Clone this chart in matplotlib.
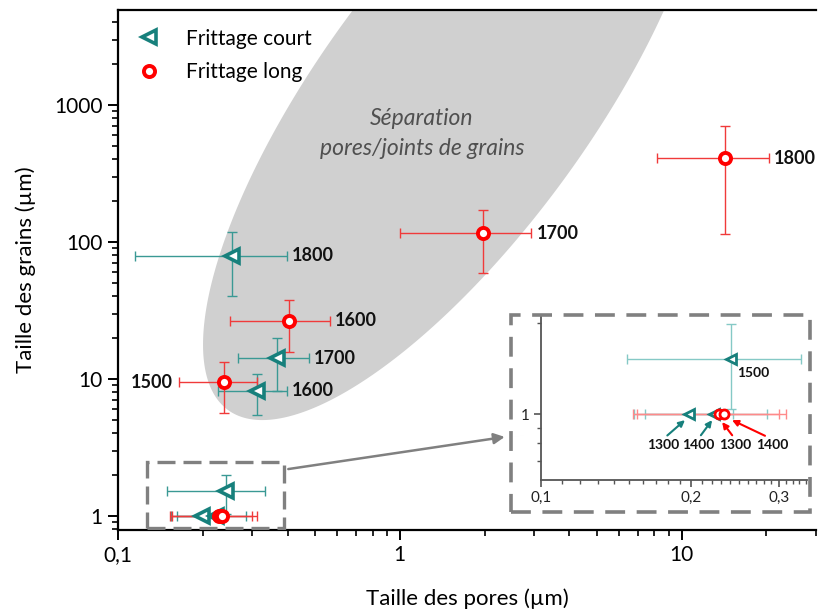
import numpy as np
import matplotlib
matplotlib.use('Agg')
import matplotlib.pyplot as plt
from matplotlib.ticker import FixedLocator, FuncFormatter, NullFormatter
from matplotlib.lines import Line2D
from matplotlib.patches import Rectangle

plt.rcParams['font.family'] = ['Lato', 'DejaVu Sans']

# ---------------- data ----------------
temps = [1300, 1400, 1500, 1600, 1700, 1800]

court_pores = [0.198, 0.222, 0.241, 0.312, 0.367, 0.254]
court_pores_lo = [0.154, 0.162, 0.149, 0.226, 0.267, 0.115]
court_pores_hi = [0.243, 0.284, 0.332, 0.398, 0.476, 0.398]
court_grains = [1.0, 1.0, 1.52, 8.2, 14.2, 79.0]
court_grains_lo = [1.0, 1.0, 1.04, 5.46, 8.2, 40.0]
court_grains_hi = [1.0, 1.0, 1.99, 10.9, 19.9, 118.0]

long_pores = [0.228, 0.233, 0.238, 0.405, 1.98, 14.2]
long_pores_lo = [0.153, 0.156, 0.165, 0.25, 1.0, 8.15]
long_pores_hi = [0.300, 0.311, 0.312, 0.566, 2.93, 20.4]
long_grains = [1.0, 1.0, 9.5, 26.5, 116.0, 410.0]
long_grains_lo = [1.0, 1.0, 5.65, 15.7, 59.4, 114.0]
long_grains_hi = [1.0, 1.0, 13.3, 37.7, 171.0, 703.0]

# labels shown in the main plot: (index, side)
court_main_labels = [(3, 'right'), (4, 'right'), (5, 'right')]
long_main_labels = [(2, 'left'), (3, 'right'), (4, 'right'), (5, 'right')]

x_major = [0.1, 1, 10]
y_major = [1, 10, 100, 1000]

# separation region (ellipse, in log10 units)
ELL_C = (0.194, 3.036)
ELL_U = (-0.682, -2.336)
ELL_V = (0.5755, 0.0)

TEAL = '#17807c'
TEAL_E = '#3a9994'
RED = '#ff0000'
RED_E = '#f03a3a'
TEAL_E_IN = '#85c9c6'
RED_E_IN = '#ff8a8a'


def fmt_comma(v, pos=None):
    s = ('%g' % v).replace('.', ',')
    return s


def draw_series(ax, x, xlo, xhi, y, ylo, yhi, marker, mcol, ecol, ms, mew):
    x = np.asarray(x); xlo = np.asarray(xlo); xhi = np.asarray(xhi)
    y = np.asarray(y); ylo = np.asarray(ylo); yhi = np.asarray(yhi)
    ax.errorbar(x, y, xerr=[x - xlo, xhi - x], yerr=[y - ylo, yhi - y],
                fmt='none', ecolor=ecol, elinewidth=1.0, capsize=3.6,
                capthick=1.0, zorder=2)
    ax.plot(x, y, ls='none', marker=marker, mfc='white', mec=mcol,
            ms=ms, mew=mew, zorder=3)


fig = plt.figure(figsize=(8.18, 6.13), dpi=100)
ax = fig.add_axes([0.1443, 0.1354, 0.8533, 0.8483])
ax.set_xscale('log')
ax.set_yscale('log')
ax.set_xlim(0.1, 30)
ax.set_ylim(0.79, 4935)

# ellipse region
t = np.linspace(0, 2 * np.pi, 500)
lx = ELL_C[0] + ELL_U[0] * np.sin(t) + ELL_V[0] * np.cos(t)
ly = ELL_C[1] + ELL_U[1] * np.sin(t)
ax.fill(10 ** lx, 10 ** ly, color='#d0d0d0', lw=0, zorder=0)

ax.text(0.4355, 0.792, 'Séparation', transform=ax.transAxes, ha='center',
        va='center', fontsize=16.5, style='italic', color='#505050')
ax.text(0.4355, 0.7346, 'pores/joints de grains', transform=ax.transAxes,
        ha='center', va='center', fontsize=16.5, style='italic', color='#505050')

draw_series(ax, court_pores, court_pores_lo, court_pores_hi, court_grains,
            court_grains_lo, court_grains_hi, '<', TEAL, TEAL_E, 9.5, 2.6)
draw_series(ax, long_pores, long_pores_lo, long_pores_hi, long_grains,
            long_grains_lo, long_grains_hi, 'o', RED, RED_E, 8, 2.8)


def label_points(ax, idxs, lo, hi, y, fs, dx):
    for i, side in idxs:
        if side == 'right':
            ax.annotate(str(temps[i]), xy=(hi[i], y[i]), xytext=(dx, 0),
                        textcoords='offset pixels', ha='left', va='center',
                        fontsize=fs, fontweight='bold', color='#111111')
        else:
            ax.annotate(str(temps[i]), xy=(lo[i], y[i]), xytext=(-dx - 2, 0),
                        textcoords='offset pixels', ha='right', va='center',
                        fontsize=fs, fontweight='bold', color='#111111')


label_points(ax, court_main_labels, court_pores_lo, court_pores_hi, court_grains, 13, 5)
label_points(ax, long_main_labels, long_pores_lo, long_pores_hi, long_grains, 13, 5)

# axes styling
for s in ['left', 'bottom', 'top']:
    ax.spines[s].set_linewidth(1.6)
    ax.spines[s].set_color('black')
ax.spines['right'].set_visible(False)
ax.xaxis.set_major_locator(FixedLocator(x_major))
ax.xaxis.set_major_formatter(FuncFormatter(fmt_comma))
x_minor = [m * d for d in [0.1, 1, 10] for m in range(2, 10) if m * d <= 30]
ax.xaxis.set_minor_locator(FixedLocator(x_minor))
ax.xaxis.set_minor_formatter(NullFormatter())
ax.yaxis.set_major_locator(FixedLocator(y_major))
ax.yaxis.set_major_formatter(FuncFormatter(fmt_comma))
y_minor = [m * d for d in [0.1, 1, 10, 100, 1000] for m in range(2, 10) if 0.79 <= m * d <= 4935]
ax.yaxis.set_minor_locator(FixedLocator(y_minor))
ax.yaxis.set_minor_formatter(NullFormatter())
ax.tick_params(which='major', direction='out', length=7, width=1.4, labelsize=15, pad=4)
ax.tick_params(which='minor', direction='out', length=4, width=1.2)
ax.tick_params(axis='x', which='both', top=False)
ax.set_xlabel('Taille des pores (µm)', fontsize=16, labelpad=17)
ax.set_ylabel('Taille des grains (µm)', fontsize=16, labelpad=13)

# legend
handles = [Line2D([], [], ls='none', marker='<', mfc='white', mec=TEAL, ms=9.5, mew=2.6),
           Line2D([], [], ls='none', marker='o', mfc='white', mec=RED, ms=8, mew=2.8)]
ax.legend(handles, ['Frittage court', 'Frittage long'], loc='upper left',
          bbox_to_anchor=(0.017, 0.98), borderaxespad=0, borderpad=0.4,
          frameon=False, fontsize=15, handlelength=1.0, handletextpad=1.3,
          labelspacing=0.65)

# zoom rectangle + arrow
ax.add_patch(Rectangle((0.127, 0.817), 0.389 - 0.127, 2.48 - 0.817, fill=False,
                       ec='#808080', lw=2.4, ls=(0, (5.4, 2.4)), zorder=4))
ax.annotate('', xy=(0.554, 0.179), xycoords='axes fraction', xytext=(0.402, 2.2),
            textcoords='data',
            arrowprops=dict(arrowstyle='-|>', color='#808080', lw=1.8,
                            mutation_scale=16, shrinkA=0, shrinkB=0))

# inset box
fig.add_artist(Rectangle((0.6247, 0.1648), 0.3655, 0.3214, transform=fig.transFigure,
                         fill=False, ec='#808080', lw=2.6, ls=(0, (5.5, 3.2))))

# inset axes
axin = fig.add_axes([0.6614, 0.217, 0.3252, 0.2692])
axin.set_facecolor('none')
axin.set_xscale('log')
axin.set_yscale('log')
axin.set_xlim(0.1, 0.342)
axin.set_ylim(0.605, 2.13)
draw_series(axin, court_pores, court_pores_lo, court_pores_hi, court_grains,
            court_grains_lo, court_grains_hi, '<', TEAL, TEAL_E_IN, 7, 2.0)
draw_series(axin, long_pores, long_pores_lo, long_pores_hi, long_grains,
            long_grains_lo, long_grains_hi, 'o', RED, RED_E_IN, 6.5, 2.0)
for s in ['top', 'right']:
    axin.spines[s].set_visible(False)
for s in ['left', 'bottom']:
    axin.spines[s].set_color('#555555')
    axin.spines[s].set_linewidth(1.3)
axin.xaxis.set_major_locator(FixedLocator([0.1, 0.2, 0.3]))
axin.xaxis.set_major_formatter(FuncFormatter(fmt_comma))
axin.xaxis.set_minor_locator(FixedLocator([k / 100 for k in range(11, 35) if k not in (20, 30)]))
axin.xaxis.set_minor_formatter(NullFormatter())
axin.yaxis.set_major_locator(FixedLocator([1]))
axin.yaxis.set_major_formatter(FuncFormatter(fmt_comma))
axin.yaxis.set_minor_locator(FixedLocator([0.7, 0.8, 0.9, 2]))
axin.yaxis.set_minor_formatter(NullFormatter())
axin.tick_params(which='major', direction='out', length=5, width=1.2, color='#555555',
                 labelsize=11, labelcolor='#222222', pad=3)
axin.tick_params(which='minor', direction='out', length=3, width=1.0, color='#555555')

# inset labels
axin.annotate(str(temps[2]), xy=(court_pores[2], court_grains[2]), xytext=(6, -14),
              textcoords='offset pixels', ha='left', va='center', fontsize=10,
              fontweight='bold', color='#111111')
inset_arrows = [
    (0.1758, 0.789, TEAL, (0.1945, 0.955)),
    (0.2066, 0.789, TEAL, (0.2205, 0.955)),
    (0.2453, 0.789, RED, (0.231, 0.941)),
    (0.291, 0.789, RED, (0.2418, 0.955)),
]
inset_arrow_labels = [temps[0], temps[1], temps[0], temps[1]]
for (tx, ty, col, head), lab in zip(inset_arrows, inset_arrow_labels):
    axin.annotate(str(lab), xy=head, xytext=(tx, ty), ha='center', va='center',
                  fontsize=10, fontweight='bold', color='#111111',
                  arrowprops=dict(arrowstyle='-|>', color=col, lw=1.5,
                                  mutation_scale=9, shrinkA=1, shrinkB=0,
                                  relpos=(0.5, 1.0)))

fig.savefig('out.png', dpi=100)
